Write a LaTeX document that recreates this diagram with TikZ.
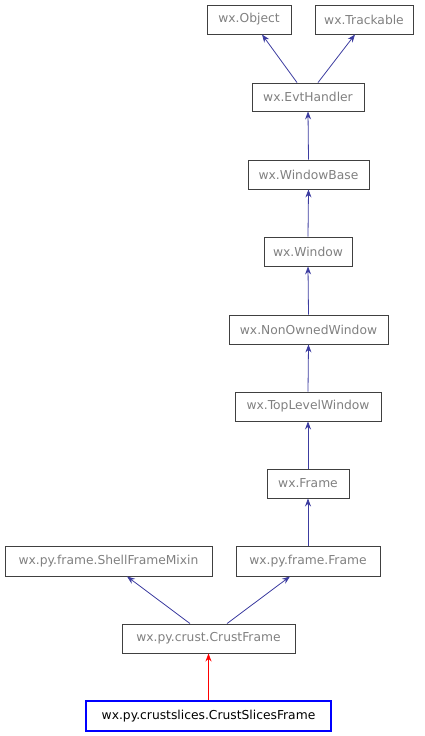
\documentclass[tikz,border=0pt]{standalone}
\usepackage{fontspec}
\setmainfont{DejaVu Sans}
\usetikzlibrary{arrows.meta}
\definecolor{edgeblue}{RGB}{60,60,160}
\definecolor{txtgray}{RGB}{128,128,128}
\definecolor{boxline}{RGB}{64,64,64}
\begin{document}
\begin{tikzpicture}[x=1pt,y=-1pt,
  cls/.style={draw=boxline,line width=0.9pt,text=txtgray,inner sep=0pt,minimum height=29pt,font=\fontsize{12.3}{14}\selectfont},
  cur/.style={draw=blue,line width=2.6pt,text=black,inner sep=0pt,minimum height=29pt,font=\fontsize{12.3}{14}\selectfont},
  arr/.style={draw=edgeblue,line width=0.8pt,-{Stealth[length=8pt,width=6pt]}},
  arrred/.style={draw=red,line width=0.8pt,-{Stealth[length=8pt,width=6pt]}}]
\useasboundingbox (0,0) rectangle (424,736);
\node[cls,minimum width=84pt] (obj) at (249,19.5) {wx.Object};
\node[cls,minimum width=98pt] (trk) at (364,19.5) {wx.Trackable};
\node[cls,minimum width=112pt,minimum height=28pt] (evt) at (308,97) {wx.EvtHandler};
\node[cls,minimum width=121pt] (wb) at (308.5,174.5) {wx.WindowBase};
\node[cls,minimum width=88pt] (win) at (308,251.5) {wx.Window};
\node[cls,minimum width=159pt] (now) at (308.5,329.5) {wx.NonOwnedWindow};
\node[cls,minimum width=146pt] (tlw) at (308,406.5) {wx.TopLevelWindow};
\node[cls,minimum width=82pt] (frm) at (308,483.5) {wx.Frame};
\node[cls,minimum width=207pt,minimum height=30pt] (sfm) at (108.5,561) {wx.py.frame.ShellFrameMixin};
\node[cls,minimum width=144pt,minimum height=30pt] (pyf) at (308,561) {wx.py.frame.Frame};
\node[cls,minimum width=173pt] (crf) at (208.5,638.5) {wx.py.crust.CrustFrame};
\node[cur,minimum width=245pt,minimum height=30pt] (csf) at (208.5,716) {wx.py.crustslices.CrustSlicesFrame};
\draw[arr] ([xshift=-11pt]evt.north) -- ([xshift=13pt]obj.south);
\draw[arr] ([xshift=10pt]evt.north) -- ([xshift=-9pt]trk.south);
\draw[arr] (wb.north) -- (evt.south);
\draw[arr] (win.north) -- (wb.south);
\draw[arr] (now.north) -- (win.south);
\draw[arr] (tlw.north) -- (now.south);
\draw[arr] (frm.north) -- (tlw.south);
\draw[arr] (pyf.north) -- (frm.south);
\draw[arr] ([xshift=-18.5pt]crf.north) -- ([xshift=18.5pt]sfm.south);
\draw[arr] ([xshift=18.5pt]crf.north) -- ([xshift=-18pt]pyf.south);
\draw[arrred] (csf.north) -- (crf.south);
\end{tikzpicture}
\end{document}
